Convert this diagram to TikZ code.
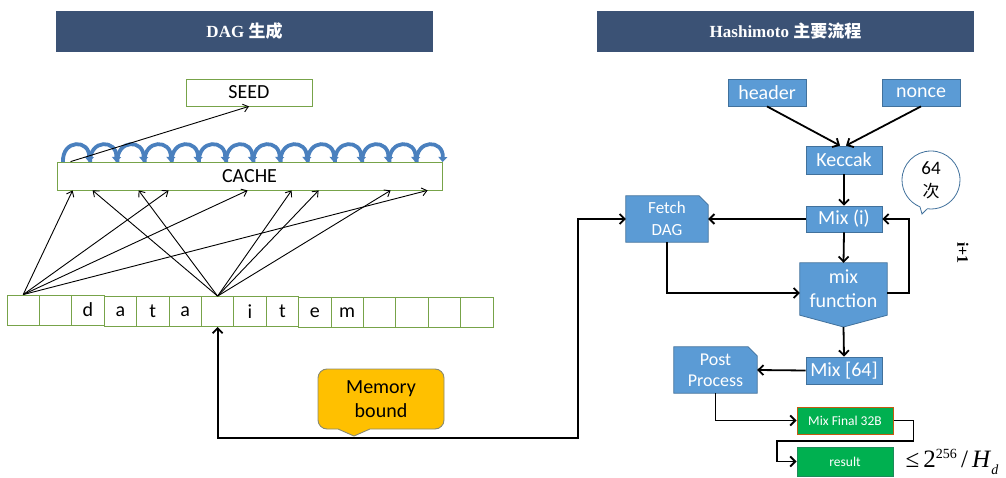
\documentclass[tikz,border=0pt]{standalone}
\usepackage{fontspec}
\setmainfont{Carlito}
\newfontfamily\tsf{Liberation Serif}
\newfontfamily\cjk{Noto Sans CJK SC}
\usetikzlibrary{arrows.meta,shapes.callouts,calc}
\pgfdeclarelayer{background}
\pgfsetlayers{background,main}
\definecolor{hdr}{HTML}{3B5275}
\definecolor{grn}{HTML}{77A349}
\definecolor{bfill}{HTML}{5B9BD5}
\definecolor{bdraw}{HTML}{41719C}
\definecolor{arcblue}{HTML}{4A80BE}
\definecolor{memfill}{HTML}{FFC000}
\definecolor{memdraw}{HTML}{8A8A70}
\definecolor{gfill}{HTML}{00B050}
\definecolor{gdrawA}{HTML}{C55A11}
\definecolor{gdrawB}{HTML}{1E8A5A}
\newcommand{\fsz}[2]{\fontsize{#1}{#2}\selectfont}
\tikzset{
  bar/.style={fill=hdr, text=white, minimum width=377pt, minimum height=41pt, inner sep=0pt, font=\tsf\bfseries\fsz{17}{20}},
  gbox/.style={draw=grn, line width=0.8pt, inner sep=0pt, font=\fsz{20}{22}},
  cellbox/.style={draw=grn, line width=0.8pt, inner sep=0pt, minimum width=32.4pt, minimum height=30pt, font=\fsz{20}{22}},
  bbox/.style={fill=bfill, draw=bdraw, line width=0.8pt, text=white, inner sep=0pt, align=center, font=\fsz{20}{24}},
  btext/.style={text=white, inner sep=0pt, align=center},
  gres/.style={fill=gfill, line width=1pt, text=white, inner sep=0pt, font=\fsz{13.5}{15}},
  thinarr/.style={line width=0.9pt, -{Straight Barb[length=5pt,width=8pt]}},
  arr/.style={line width=1.8pt, -{Straight Barb[length=5pt,width=10pt]}},
  arcst/.style={line width=3.8pt, draw=arcblue, -{Triangle[length=5pt,width=9pt]}},
}
\begin{document}
\begin{tikzpicture}[x=1pt,y=-1pt]
\useasboundingbox (0,0) rectangle (1006,478);
% titles
\node[bar] (t1) at (244.5,31.5) {DAG {\cjk 生成}};
\node[bar] (t2) at (785.5,31.5) {Hashimoto {\cjk 主要流程}};

% ---------- left: DAG generation ----------
\node[gbox, minimum width=126pt, minimum height=27pt] (seed) at (249,92.5) {SEED};
\node[gbox, minimum width=385pt, minimum height=28pt] (cache) at (249.5,176) {CACHE};
\foreach \i/\t/\yy in {1//310,2//310,3/d/310,4/a/311.5,5/t/311.5,6/a/311.5,7//311.5,8/i/311.5,9/t/311.5,10/e/312.5,11/m/312.5,12//312.5,13//312.5,14//312.5,15//312.5}{
  \node[cellbox] (c\i) at ({7+32.4*(\i-1)+16.2},\yy) {\t};
}
% spiral arcs over the cache
\foreach \i in {0,...,13}{
  \draw[arcst] ({63+27.2*\i},162) .. controls ({62+27.2*\i},139) and ({90+27.2*\i},139) .. ({89+27.2*\i},162);
}
% cache -> seed
\draw[thinarr] ([xshift=14pt]cache.north west) -- (seed.south);
% data item -> cache
\foreach \dx in {16,112,191,371}{
  \draw[thinarr] (c1.north) -- ([xshift=\dx pt]cache.south west);
}
\foreach \dx in {36,82,235,262,334}{
  \draw[thinarr] (c7.north) -- ([xshift=\dx pt]cache.south west);
}

% ---------- right: Hashimoto ----------
\node[bbox, minimum width=78pt, minimum height=27pt] (header) at (767,92.5) {header};
\node[bbox, minimum width=78pt, minimum height=27pt] (nonce) at (921,92.5) {nonce};
\node[bbox, minimum width=76pt, minimum height=28pt] (keccak) at (844,160) {Keccak};
\node[bbox, minimum width=76pt, minimum height=26pt] (mixi) at (844,219) {Mix (i)};
\node[bbox, minimum width=76pt, minimum height=27pt] (mix64) at (844,370.5) {Mix [64]};

\node[btext, minimum width=82pt, minimum height=46pt, font=\fsz{17}{22}] (fetch) at (667,219) {Fetch\\DAG};
\node[btext, minimum width=83pt, minimum height=46pt, font=\fsz{18}{21}] (post) at (715.5,370) {Post\\Process};
\node[btext, minimum width=87pt, minimum height=52pt, font=\fsz{20}{24}] (mixf) at (843.5,289) {mix\\function};
\coordinate (mixftip) at (843.5,327);

\node[gres, draw=gdrawA, minimum width=96pt, minimum height=27pt] (mixfinal) at (845,420.5) {Mix Final 32B};
\node[gres, draw=gdrawB, minimum width=96pt, minimum height=29pt] (result) at (845,461.5) {result};

\node[inner sep=0pt, font=\tsf\fsz{25}{28}] (bound) at (952,462) {≤\,2\raisebox{0.8ex}{\fsz{14}{14}256}\,/\,\textit{H}\raisebox{-0.6ex}{\fsz{14}{14}\textit{d}}};

\node[ellipse callout, draw=bdraw, line width=0.8pt, fill=white, minimum width=58pt, minimum height=58pt, inner sep=0pt, align=center, callout absolute pointer={(922,214)}, font=\fsz{19}{23}] (bubble) at (931,180) {64\\{\cjk\fsz{17}{20}次}};

\node[rotate=-90, inner sep=0pt, font=\tsf\bfseries\fsz{16}{16}] (iplus) at (963,253) {i+1};

% memory bound callout
\node[inner sep=0pt, align=center, font=\fsz{20}{24}] (mem) at (381,399) {Memory\\bound};

\begin{pgfonlayer}{background}
  \path[fill=bfill, draw=bdraw, line width=0.8pt]
    (fetch.south west) -- (fetch.north west) -- ([xshift=-9pt]fetch.north east)
    -- ([yshift=-9pt]fetch.north east) -- (fetch.south east) -- cycle;
  \path[fill=bfill, draw=bdraw, line width=0.8pt]
    (post.south west) -- (post.north west) -- ([xshift=-9pt]post.north east)
    -- ([yshift=-9pt]post.north east) -- (post.south east) -- cycle;
  \path[fill=bfill, draw=bdraw, line width=0.8pt]
    (mixf.north west) -- (mixf.north east) -- (mixf.south east) -- (mixftip)
    -- (mixf.south west) -- cycle;
  \path[fill=memfill, draw=memdraw, line width=0.9pt, rounded corners=9pt]
    (381,369) -- (444,369) -- (444,429) [sharp corners] -- (370,429) -- (354,436)
    -- (338,429) [rounded corners=9pt] -- (318,429) -- (318,369) -- cycle;
\end{pgfonlayer}

% connectors
\draw[arr] (header.south) -- ([xshift=-4pt]keccak.north);
\draw[arr] (nonce.south) -- ([xshift=2pt]keccak.north);
\draw[arr] (keccak.south) -- (mixi.north);
\draw[arr] (mixi.west) -- (fetch.east);
\draw[arr] (mixi.south) -- (mixf.north);
\draw[arr] (fetch.south) |- ([yshift=-4pt]mixf.west);
\draw[arr] ([yshift=-4pt]mixf.east) -- ++(22pt,0) |- (mixi.east);
\draw[arr] (mixftip) -- (mix64.north);
\draw[arr] (mix64.west) -- (post.east);
\draw[arr] (post.south) |- (mixfinal.west);
\coordinate (rbend) at (777,441);
\draw[arr] (mixfinal.east) -- ++(20pt,0) |- (rbend) |- (result.west);
% memory-bound loop between data item and Fetch DAG
\coordinate (mbr) at (578,438);
\draw[line width=1.8pt, {Straight Barb[length=5pt,width=10pt]}-{Straight Barb[length=5pt,width=10pt]}]
  (c7.south) |- (mbr) |- (fetch.west);
\end{tikzpicture}
\end{document}
